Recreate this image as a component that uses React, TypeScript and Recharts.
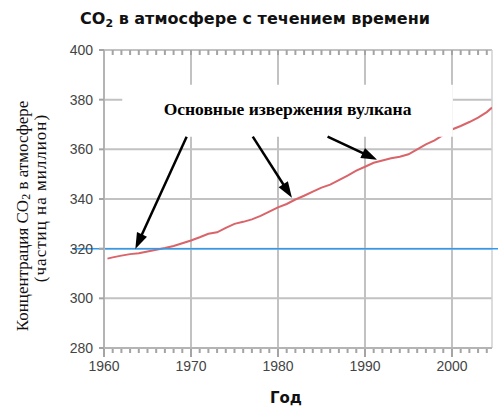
import { LineChart, Line, XAxis, YAxis, CartesianGrid, ReferenceLine, ReferenceArea } from 'recharts';

// readings
const years = [
  1960.4, 1961, 1962, 1963, 1964, 1965, 1966, 1967, 1968, 1969,
  1970, 1971, 1972, 1973, 1974, 1975, 1976, 1977, 1978, 1979,
  1980, 1981, 1982, 1983, 1984, 1985, 1986, 1987, 1988, 1989,
  1990, 1991, 1992, 1993, 1994, 1995, 1996, 1997, 1998, 1999,
  2000, 2001, 2002, 2003, 2004, 2004.6,
];
const co2 = [
  316.0, 316.5, 317.2, 317.8, 318.2, 318.9, 319.6, 320.3, 321.1, 322.2,
  323.3, 324.6, 326.0, 326.6, 328.4, 330.0, 330.8, 331.8, 333.2, 334.9,
  336.6, 338.0, 339.8, 341.3, 343.0, 344.6, 345.8, 347.6, 349.4, 351.4,
  353.0, 354.6, 355.5, 356.4, 357.0, 358.0, 360.0, 362.0, 363.6, 365.8,
  368.0, 369.4, 371.0, 372.8, 375.0, 376.8,
];

const xDomain = [1960, 2004.6];
const decadeTicks = [1960, 1970, 1980, 1990, 2000];
const yearTicks = Array.from({ length: 45 }, (_, i) => 1960 + i);
const ppmTicks = [280, 300, 320, 340, 360, 380, 400];
const referencePpm = 320;

const title = 'в атмосфере с течением времени';
const xTitle = 'Год';
const yTitle1 = 'в атмосфере';
const yTitle2 = '(частиц на миллион)';
const note = 'Основные извержения вулкана';

// annotation box and arrows, in data units
const noteYears = [1962.1, 2000.1];
const notePpm = [365.1, 386];
const arrowFromYears = [1969.5, 1977.1, 1985.7];
const arrowFromPpm = [365.1, 365.1, 365.1];
const arrowToYears = [1963.6, 1981.6, 1991.4];
const arrowToPpm = [319.9, 340.5, 355.8];

const data = years.map((year, i) => ({ year, co2: co2[i] }));

const GRID = '#c2c2c2';
const TICK = '#a4a4a4';
const SANS = '"Liberation Sans", Arial, sans-serif';
const SERIF = '"Liberation Serif", "Times New Roman", serif';

function DecadeLabel(props: any) {
  const { x, y, payload } = props;
  return (
    <text x={x} y={y + 23} textAnchor="middle" fontSize={14} fill="#444" fontFamily={SANS}>
      {payload.value}
    </text>
  );
}

// short ruler marks at the top and bottom edge of the plot for each year
function YearMark(props: any) {
  const { x1, y1, y2, major } = props;
  const top = Math.min(y1, y2);
  const bottom = Math.max(y1, y2);
  return (
    <path
      d={`M${x1},${top}V${top + 5}M${x1},${bottom}V${bottom + (major ? 9 : 5)}`}
      stroke={TICK}
      strokeWidth={2}
      fill="none"
    />
  );
}

function Arrow(props: any) {
  const { x1, y1, x2, y2 } = props;
  const len = Math.hypot(x2 - x1, y2 - y1);
  const ux = (x2 - x1) / len;
  const uy = (y2 - y1) / len;
  const head = 16;
  const half = 5.5;
  const bx = x2 - ux * head;
  const by = y2 - uy * head;
  return (
    <g>
      <line x1={x1} y1={y1} x2={bx + ux * 2} y2={by + uy * 2} stroke="#000" strokeWidth={2.5} />
      <polygon
        points={`${x2},${y2} ${bx - uy * half},${by + ux * half} ${bx + uy * half},${by - ux * half}`}
        fill="#000"
      />
    </g>
  );
}

function BlueLine(props: any) {
  const { x1, x2, y1 } = props;
  return <line x1={x1 - 32} y1={y1} x2={x2 + 6} y2={y1} stroke="#2f9bf0" strokeWidth={1.5} />;
}

function YTitle(props: any) {
  const { viewBox } = props;
  const cy = viewBox.y + viewBox.height / 2;
  const a = { x: viewBox.x - 22, y: cy + 17 };
  const b = { x: viewBox.x - 4, y: cy - 1 };
  return (
    <g fontFamily={SERIF} fontSize={17} fill="#111">
      <text x={a.x} y={a.y} textAnchor="middle" dominantBaseline="central" transform={`rotate(-90, ${a.x}, ${a.y})`}>
        Концентрация CO<tspan fontSize={12} dy={4}>2</tspan>
        <tspan dy={-4}> {yTitle1}</tspan>
      </text>
      <text
        x={b.x}
        y={b.y}
        textAnchor="middle"
        dominantBaseline="central"
        letterSpacing={1}
        transform={`rotate(-90, ${b.x}, ${b.y})`}
      >
        {yTitle2}
      </text>
    </g>
  );
}

function XTitle(props: any) {
  const { viewBox } = props;
  return (
    <text
      x={viewBox.x + viewBox.width / 2 - 12}
      y={viewBox.y + 55}
      textAnchor="middle"
      fontFamily='"DejaVu Sans", sans-serif'
      fontWeight="bold"
      fontSize={15}
      fill="#111"
    >
      {xTitle}
    </text>
  );
}

export default function App() {
  return (
    <div style={{ position: 'absolute', left: 0, top: 0, width: 498, height: 406, background: '#fff' }}>
      <div
        style={{
          position: 'absolute',
          left: 0,
          top: 11,
          width: 510,
          textAlign: 'center',
          fontFamily: '"DejaVu Sans", sans-serif',
          fontWeight: 'bold',
          fontSize: 16,
          lineHeight: '16px',
          color: '#111',
        }}
      >
        CO<sub style={{ fontSize: 11, verticalAlign: -3 }}>2</sub> {title}
      </div>
      <LineChart
        width={498}
        height={406}
        data={data}
        margin={{ top: 50, right: 6, bottom: 28, left: 44 }}
        style={{ position: 'absolute', left: 0, top: 0 }}
      >
        <CartesianGrid vertical={false} stroke={GRID} strokeWidth={2} />
        {decadeTicks.slice(1).map((d) => (
          <ReferenceLine key={d} x={d} stroke={GRID} strokeWidth={2} />
        ))}
        <ReferenceLine x={xDomain[1]} stroke="#d0d0d0" strokeWidth={1.5} />
        {yearTicks.map((t) => (
          <ReferenceLine
            key={`m${t}`}
            x={t}
            ifOverflow="visible"
            stroke={TICK}
            shape={<YearMark major={t % 10 === 0} />}
          />
        ))}
        <XAxis
          dataKey="year"
          type="number"
          domain={xDomain}
          ticks={decadeTicks}
          interval={0}
          allowDataOverflow
          height={30}
          tickSize={0}
          tickMargin={0}
          tickLine={false}
          tick={<DecadeLabel />}
          axisLine={{ stroke: '#b4b4b4', strokeWidth: 2 }}
          label={<XTitle />}
        />
        <YAxis
          type="number"
          domain={[280, 400]}
          ticks={ppmTicks}
          interval={0}
          width={60}
          tickSize={5}
          tickMargin={6}
          tick={{ fontSize: 14, fill: '#444', fontFamily: SANS }}
          tickLine={{ stroke: TICK, strokeWidth: 2 }}
          stroke="#b4b4b4"
          axisLine={{ stroke: '#b4b4b4', strokeWidth: 2 }}
          label={<YTitle />}
        />
        <Line
          dataKey="co2"
          stroke="#d9646a"
          strokeWidth={2}
          dot={false}
          type="linear"
          isAnimationActive={false}
        />
        <ReferenceLine y={referencePpm} ifOverflow="visible" shape={<BlueLine />} />
        <ReferenceArea
          x1={noteYears[0]}
          x2={noteYears[1]}
          y1={notePpm[0]}
          y2={notePpm[1]}
          fill="#fff"
          fillOpacity={1}
          stroke="none"
          zIndex={1500}
          label={{
            value: note,
            position: 'center',
            dy: -2,
            fill: '#000',
            fontSize: 17.5,
            fontWeight: 'bold',
            fontFamily: SERIF,
          }}
        />
        {arrowFromYears.map((x, i) => (
          <ReferenceLine
            key={i}
            segment={[
              { x, y: arrowFromPpm[i] },
              { x: arrowToYears[i], y: arrowToPpm[i] },
            ]}
            zIndex={1600}
            shape={<Arrow />}
          />
        ))}
      </LineChart>
    </div>
  );
}
